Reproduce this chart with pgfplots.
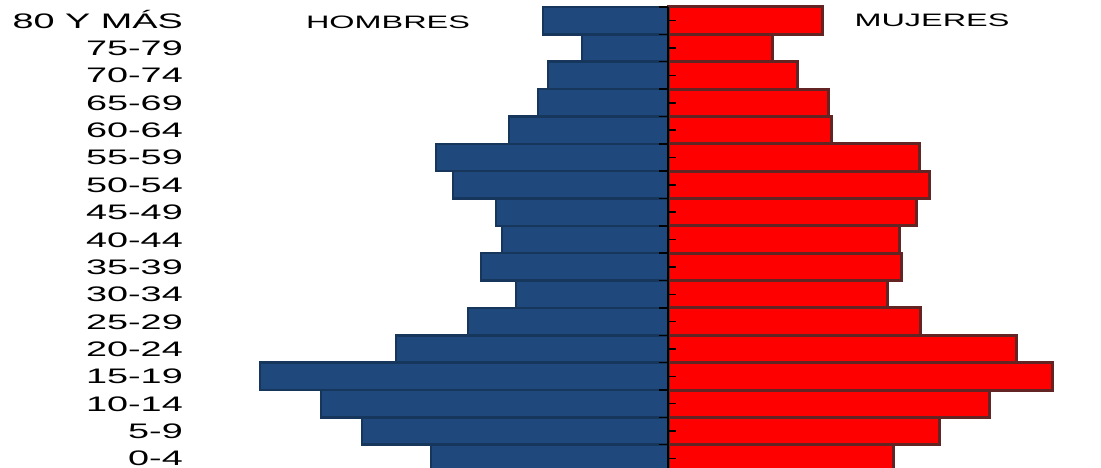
\documentclass[border=0pt]{standalone}
\usepackage{fontspec}
\setmainfont{Liberation Sans}[FakeStretch=1.8]
\usepackage{pgfplots}
\pgfplotsset{compat=1.18}
\definecolor{menfill}{RGB}{31,73,125}
\definecolor{menline}{RGB}{22,54,92}
\definecolor{womfill}{RGB}{255,0,0}
\definecolor{womline}{RGB}{99,37,35}
\begin{document}
\begin{tikzpicture}[x=1bp,y=1bp]
\begin{axis}[
  at={(0,0)}, anchor=south west,
  scale only axis, width=918bp, height=461bp,
  xmin=-485, xmax=433, ymin=-0.35, ymax=16.5,
  hide x axis,
  axis y line*=left,
  y axis line style={draw=none},
  ytick={0,...,16},
  yticklabels={0-4,5-9,10-14,15-19,20-24,25-29,30-34,35-39,40-44,45-49,50-54,55-59,60-64,65-69,70-74,75-79,80 Y MÁS},
  ytick style={draw=none},
  major tick length=0pt,
  yticklabel style={anchor=east, inner sep=0pt, text height=15bp, text depth=0pt, font=\fontsize{21bp}{25bp}\selectfont},
  xbar, bar width=1, bar shift=0pt,
  clip=false,
]
\addplot[fill=menfill, draw=menline, line width=2.5bp] coordinates {
(-237,0) (-306,1) (-347,2) (-408,3) (-272,4) (-200,5) (-152,6) (-187,7) (-166,8)
(-172,9) (-215,10) (-232,11) (-159,12) (-130,13) (-120,14) (-86,15) (-125,16)};
\addplot[fill=womfill, draw=womline, line width=3bp] coordinates {
(225,0) (271,1) (321,2) (384,3) (348,4) (252,5) (219,6) (233,7) (231,8)
(248,9) (261,10) (251,11) (163,12) (160,13) (129,14) (104,15) (154,16)};
\draw[black, line width=2bp] (axis cs:0,-0.35) -- (axis cs:0,16.5);
\pgfplotsinvokeforeach{0,...,16}{\draw[black, line width=1.5bp] (axis cs:0,#1) -- (axis cs:8,#1);}
\pgfplotsinvokeforeach{0.5,1.5,...,16.5}{\draw[black, line width=1.5bp] (axis cs:0,#1) -- (axis cs:-9,#1);}
\node[font=\fontsize{18bp}{22bp}\selectfont, inner sep=0pt] at (axis cs:-280,15.95) {HOMBRES};
\node[font=\fontsize{18bp}{22bp}\selectfont, inner sep=0pt] at (axis cs:264,16.02) {MUJERES};
\end{axis}
\pgfresetboundingbox
\path (-183bp,0) rectangle (918bp,468bp);
\end{tikzpicture}
\end{document}
